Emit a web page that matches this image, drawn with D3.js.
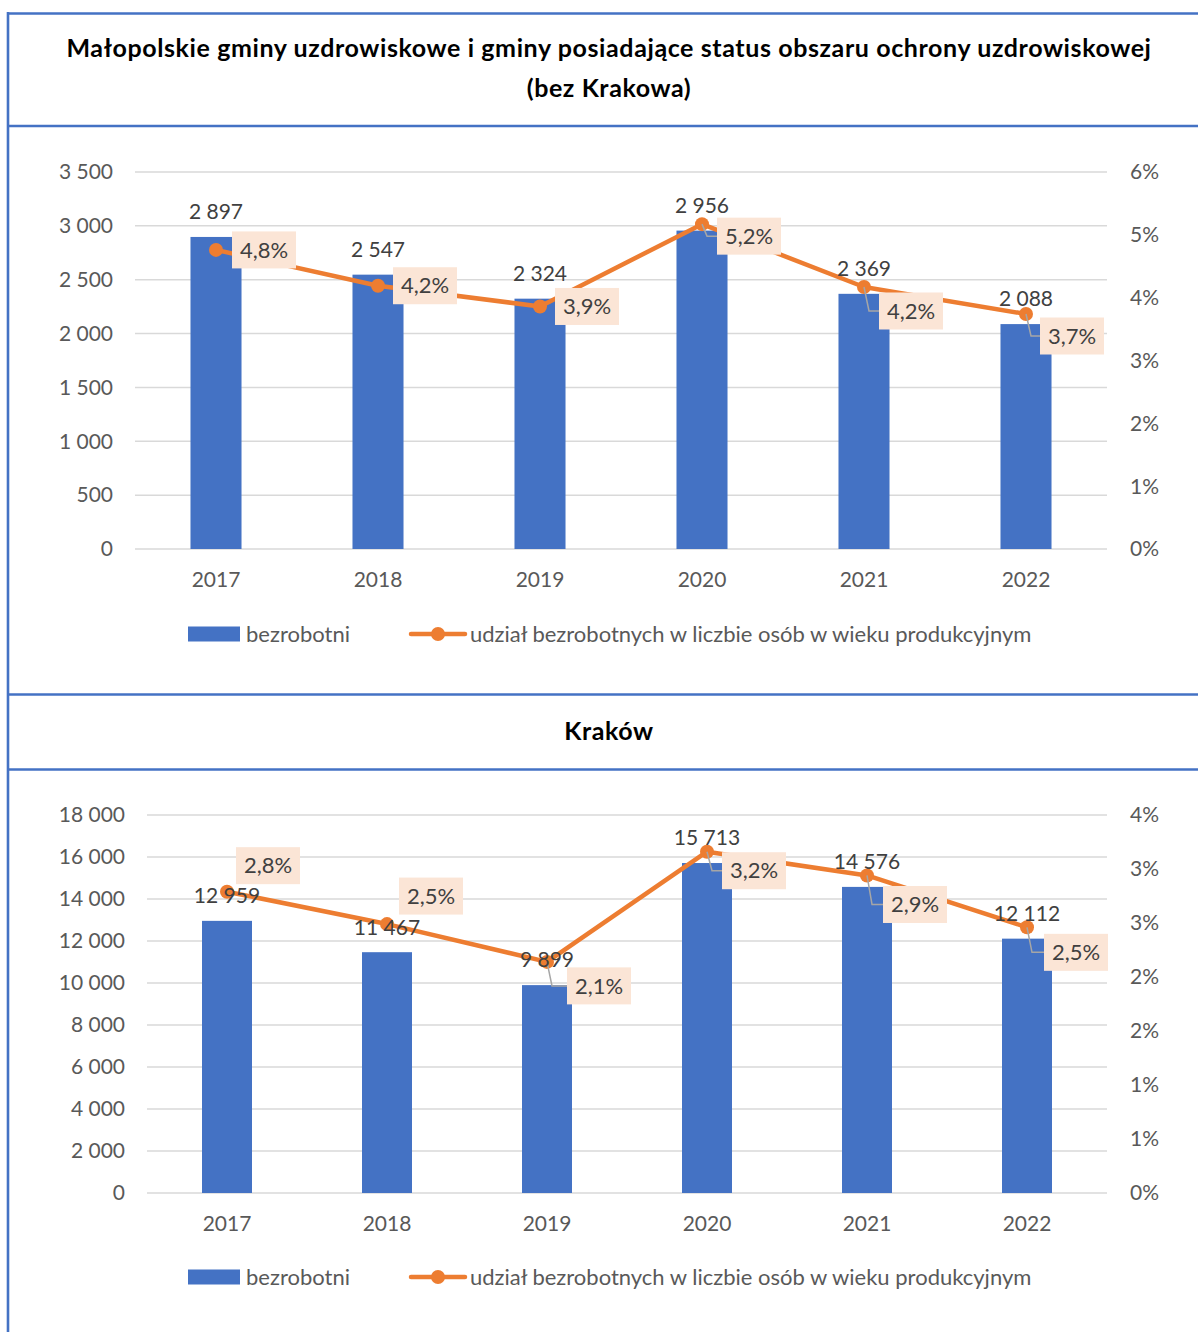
<!DOCTYPE html>
<html>
<head>
<meta charset="utf-8">
<title>Bezrobotni</title>
<script src="https://d3js.org/d3.v7.min.js"></script>
<style>
  body { margin: 0; background: #fff; }
  text { font-family: Lato, "Noto Sans", sans-serif; }
</style>
</head>
<body>
<script>

// dane
var years = ["2017", "2018", "2019", "2020", "2021", "2022"];

var spaBezrobotni = [2897, 2547, 2324, 2956, 2369, 2088];
var spaUdzial = [4.76, 4.19, 3.86, 5.17, 4.17, 3.74];
var spaLeftTicks = [0, 500, 1000, 1500, 2000, 2500, 3000, 3500];
var spaRightTicks = [0, 1, 2, 3, 4, 5, 6];

var krkBezrobotni = [12959, 11467, 9899, 15713, 14576, 12112];
var krkUdzial = [2.79, 2.49, 2.14, 3.16, 2.94, 2.46];
var krkLeftTicks = [0, 2000, 4000, 6000, 8000, 10000, 12000, 14000, 16000, 18000];
var krkRightTicks = [0, 0.5, 1, 1.5, 2, 2.5, 3, 3.5];

var legendBar = "bezrobotni";
var legendLine = "udział bezrobotnych w liczbie osób w wieku produkcyjnym";

// przesunięcia etykiet procentowych (dx do lewej krawędzi, dy środka)
var spaShift = [[16, 0], [15, 0], [15, 0], [15, 12], [15, 24], [14, 22]];
var krkShift = [[9, -26], [12, -28], [20, 24], [15, 19], [16, 29], [17, 25]];

var W = 1198, H = 1332;
var blue = "#4472C4", orange = "#ED7D31", grid = "#D9D9D9", axisText = "#595959";

var svg = d3.select("body").append("svg")
  .attr("width", W)
  .attr("height", H);

svg.append("rect").attr("width", W).attr("height", H).attr("fill", "#fff");

// ramki
var frame = svg.append("g").attr("stroke", blue).attr("stroke-width", 2.6);
frame.append("line").attr("x1", 8).attr("x2", 8).attr("y1", 12).attr("y2", H);
[13.5, 126, 694.5, 769.5].forEach(function(y) {
  frame.append("line").attr("x1", 7).attr("x2", W).attr("y1", y).attr("y2", y);
});

// tytuły
function title(txt, y) {
  svg.append("text")
    .attr("x", 609).attr("y", y).attr("dy", "0.35em")
    .attr("text-anchor", "middle")
    .attr("font-size", 25).attr("letter-spacing", 0.6)
    .attr("font-weight", "bold").attr("fill", "#000")
    .text(txt);
}
title("Małopolskie gminy uzdrowiskowe i gminy posiadające status obszaru ochrony uzdrowiskowej", 48);
title("(bez Krakowa)", 88);
title("Kraków", 731);

function fmt(v) {
  return d3.format(",")(v).replace(/,/g, " ");
}

function drawChart(o) {
  var g = svg.append("g");

  var x = d3.scaleBand().domain(years).range([o.x0, o.x1]).padding(0);
  var y = d3.scaleLinear().domain([0, d3.max(o.leftTicks)]).range([o.y0, o.y1]);
  var y2 = d3.scaleLinear().domain([0, d3.max(o.rightTicks) / 100]).range([o.y0, o.y1]);
  var bw = x.bandwidth() * o.barRatio;
  var cx = function(d) { return x(d) + x.bandwidth() / 2; };

  // siatka
  g.selectAll(".grid").data(o.leftTicks).enter().append("line")
    .attr("x1", o.x0).attr("x2", o.x1)
    .attr("y1", function(d) { return y(d); })
    .attr("y2", function(d) { return y(d); })
    .attr("stroke", grid).attr("stroke-width", 1.5);

  // osie
  g.selectAll(".lt").data(o.leftTicks).enter().append("text")
    .attr("x", o.x0 - 22).attr("y", function(d) { return y(d); }).attr("dy", "0.35em")
    .attr("text-anchor", "end").attr("font-size", 21).attr("fill", axisText)
    .text(fmt);

  g.selectAll(".rt").data(o.rightTicks).enter().append("text")
    .attr("x", 1130).attr("y", function(d) { return y2(d / 100); }).attr("dy", "0.35em")
    .attr("font-size", 21).attr("fill", axisText)
    .text(function(d) { return Math.round(d) + "%"; });

  g.selectAll(".xt").data(years).enter().append("text")
    .attr("x", cx).attr("y", o.y0 + 31).attr("dy", "0.35em")
    .attr("text-anchor", "middle").attr("font-size", 21).attr("fill", axisText)
    .text(function(d) { return d; });

  // słupki
  g.selectAll(".bar").data(o.bars).enter().append("rect")
    .attr("x", function(d, i) { return cx(years[i]) - bw / 2; })
    .attr("width", bw)
    .attr("y", function(d) { return y(d); })
    .attr("height", function(d) { return o.y0 - y(d); })
    .attr("fill", blue);

  // linia
  var pts = o.line.map(function(d, i) { return [cx(years[i]), y2(d / 100)]; });
  g.append("path")
    .attr("d", d3.line()(pts))
    .attr("fill", "none").attr("stroke", orange).attr("stroke-width", 4.5)
    .attr("stroke-linejoin", "round");
  g.selectAll(".dot").data(pts).enter().append("circle")
    .attr("cx", function(d) { return d[0]; })
    .attr("cy", function(d) { return d[1]; })
    .attr("r", 7).attr("fill", orange);

  // linie odniesienia
  pts.forEach(function(p, i) {
    var s = o.shift[i];
    if (s[1] > 0) {
      g.append("polyline")
        .attr("points", [p, [p[0] + 5, p[1] + s[1]], [p[0] + s[0], p[1] + s[1]]].join(" "))
        .attr("fill", "none").attr("stroke", "#A6A6A6").attr("stroke-width", 1.5);
    }
  });

  // etykiety słupków
  g.selectAll(".bl").data(o.bars).enter().append("text")
    .attr("x", function(d, i) { return cx(years[i]); })
    .attr("y", function(d) { return y(d) - 25; }).attr("dy", "0.35em")
    .attr("text-anchor", "middle").attr("font-size", 21).attr("fill", "#404040")
    .text(fmt);

  // etykiety procentowe
  pts.forEach(function(p, i) {
    var s = o.shift[i];
    var bx = p[0] + s[0], by = p[1] + s[1];
    g.append("rect")
      .attr("x", bx).attr("y", by - 18.5).attr("width", 64).attr("height", 37)
      .attr("fill", "#FBE5D6");
    g.append("text")
      .attr("x", bx + 32).attr("y", by).attr("dy", "0.35em")
      .attr("text-anchor", "middle").attr("font-size", 22).attr("fill", "#404040")
      .text(o.line[i].toFixed(1).replace(".", ",") + "%");
  });

  // legenda
  var ly = o.legendY;
  g.append("rect").attr("x", 188).attr("y", ly - 7.5).attr("width", 52).attr("height", 15).attr("fill", blue);
  g.append("text").attr("x", 246).attr("y", ly).attr("dy", "0.35em")
    .attr("font-size", 22).attr("fill", axisText).text(legendBar);
  g.append("line").attr("x1", 411).attr("x2", 465).attr("y1", ly).attr("y2", ly)
    .attr("stroke", orange).attr("stroke-width", 4.5).attr("stroke-linecap", "round");
  g.append("circle").attr("cx", 438).attr("cy", ly).attr("r", 7).attr("fill", orange);
  g.append("text").attr("x", 470).attr("y", ly).attr("dy", "0.35em")
    .attr("font-size", 22).attr("fill", axisText).text(legendLine);
}

drawChart({
  bars: spaBezrobotni, line: spaUdzial,
  leftTicks: spaLeftTicks, rightTicks: spaRightTicks, shift: spaShift,
  x0: 135, x1: 1107, y0: 549, y1: 172, barRatio: 0.315, legendY: 634
});

drawChart({
  bars: krkBezrobotni, line: krkUdzial,
  leftTicks: krkLeftTicks, rightTicks: krkRightTicks, shift: krkShift,
  x0: 147, x1: 1107, y0: 1193, y1: 815, barRatio: 0.3125, legendY: 1277
});

</script>
</body>
</html>
